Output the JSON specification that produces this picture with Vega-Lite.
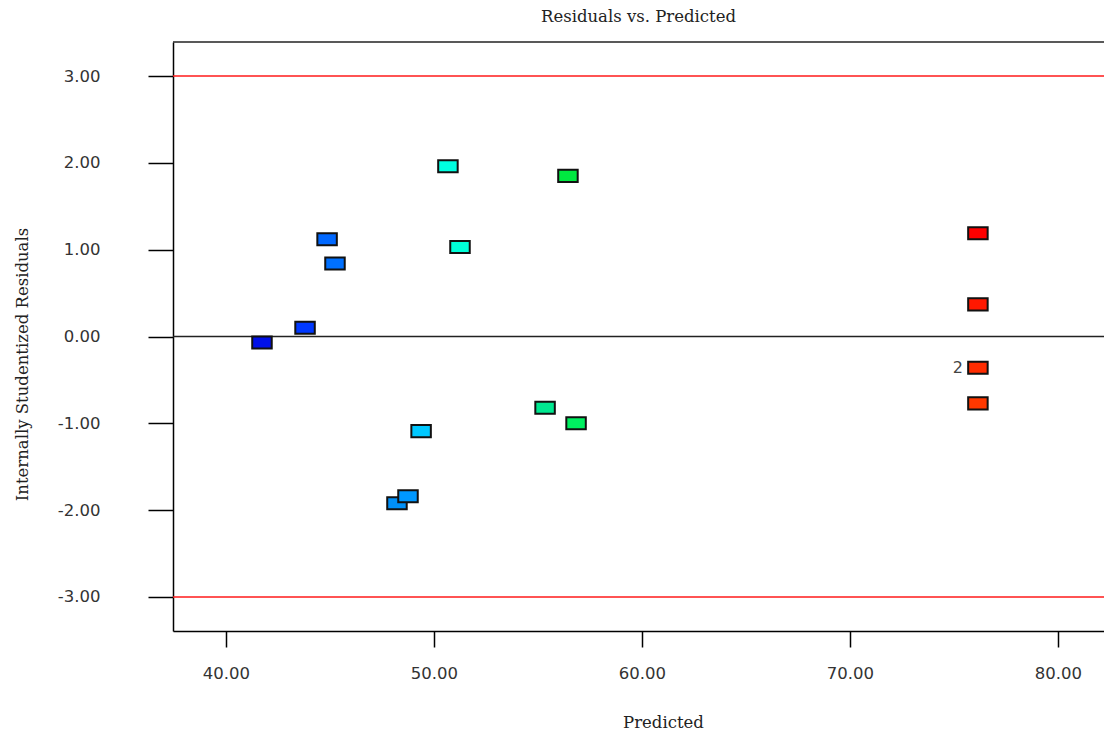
{
  "$schema": "https://vega.github.io/schema/vega-lite/v6.json",
  "autosize": "none",
  "width": 931,
  "height": 589,
  "padding": {"left": 173, "top": 42, "right": 0, "bottom": 102},
  "background": "white",
  "config": {
    "view": {"stroke": null},
    "axis": {
      "grid": false,
      "domainColor": "black",
      "domainWidth": 1.5,
      "tickColor": "black",
      "tickWidth": 1.5,
      "labelFont": "DejaVu Sans",
      "labelFontSize": 16.5,
      "labelColor": "#333333",
      "titleFont": "DejaVu Serif",
      "titleFontSize": 16.5,
      "titleFontWeight": "normal",
      "titleColor": "#222222"
    }
  },
  "title": {
    "text": "Residuals vs. Predicted",
    "font": "DejaVu Serif",
    "fontSize": 16.5,
    "fontWeight": "normal",
    "color": "#222222",
    "anchor": "middle",
    "offset": 16
  },
  "data": {
    "values": [
      {"run": "r1", "predicted": 41.73, "residual": -0.07, "label": ""},
      {"run": "r2", "predicted": 43.8, "residual": 0.1, "label": ""},
      {"run": "r3", "predicted": 44.86, "residual": 1.12, "label": ""},
      {"run": "r4", "predicted": 45.24, "residual": 0.84, "label": ""},
      {"run": "r5", "predicted": 48.22, "residual": -1.92, "label": ""},
      {"run": "r6", "predicted": 48.75, "residual": -1.84, "label": ""},
      {"run": "r7", "predicted": 49.38, "residual": -1.09, "label": ""},
      {"run": "r8", "predicted": 50.67, "residual": 1.96, "label": ""},
      {"run": "r9", "predicted": 51.25, "residual": 1.03, "label": ""},
      {"run": "r10", "predicted": 55.34, "residual": -0.82, "label": ""},
      {"run": "r11", "predicted": 56.44, "residual": 1.85, "label": ""},
      {"run": "r12", "predicted": 56.83, "residual": -1.0, "label": ""},
      {"run": "r13", "predicted": 76.15, "residual": 1.19, "label": ""},
      {"run": "r14", "predicted": 76.15, "residual": 0.37, "label": ""},
      {"run": "r15", "predicted": 76.15, "residual": -0.36, "label": "2"},
      {"run": "r16", "predicted": 76.15, "residual": -0.77, "label": ""}
    ]
  },
  "layer": [
    {
      "data": {"values": [{"limit": 3}, {"limit": -3}]},
      "mark": {"type": "rule", "color": "#ff1a1a", "strokeWidth": 1.5},
      "encoding": {
        "y": {"field": "limit", "type": "quantitative", "scale": {"domain": [-3.392, 3.392], "nice": false, "zero": false}}
      }
    },
    {
      "data": {"values": [{"zero": 0}]},
      "mark": {"type": "rule", "color": "#222222", "strokeWidth": 1.5},
      "encoding": {
        "y": {"field": "zero", "type": "quantitative"}
      }
    },
    {
      "data": {"values": [{"top": 3.392}]},
      "mark": {"type": "rule", "color": "#222222", "strokeWidth": 1.5},
      "encoding": {
        "y": {"field": "top", "type": "quantitative"}
      }
    },
    {
      "mark": {
        "type": "point",
        "filled": true,
        "opacity": 1,
        "shape": "M-1,-0.62L1,-0.62L1,0.62L-1,0.62Z",
        "size": 380,
        "stroke": "#111111",
        "strokeWidth": 2
      },
      "encoding": {
        "x": {
          "field": "predicted",
          "type": "quantitative",
          "title": "Predicted",
          "scale": {"domain": [37.452, 82.212], "nice": false, "zero": false},
          "axis": {
            "values": [40, 50, 60, 70, 80],
            "format": ".2f",
            "tickSize": 16,
            "labelPadding": 18,
            "titleX": 490,
            "titleY": 91,
            "titleBaseline": "middle",
            "titleAnchor": null
          }
        },
        "y": {
          "field": "residual",
          "type": "quantitative",
          "title": "Internally Studentized Residuals",
          "axis": {
            "values": [-3, -2, -1, 0, 1, 2, 3],
            "labelExpr": "datum.value < 0 ? '-' + format(-datum.value, '.2f') : format(datum.value, '.2f')",
            "tickSize": 25,
            "labelPadding": 48,
            "titleX": -151,
            "titleY": 322,
            "titleAngle": -90,
            "titleAlign": "center",
            "titleBaseline": "middle"
          }
        },
        "color": {
          "field": "run",
          "type": "nominal",
          "legend": null,
          "scale": {
            "domain": ["r1", "r2", "r3", "r4", "r5", "r6", "r7", "r8", "r9", "r10", "r11", "r12", "r13", "r14", "r15", "r16"],
            "range": ["#0010e8", "#0038ff", "#0068ff", "#0070ff", "#0090f8", "#0098ff", "#00c8ff", "#00ffe0", "#00ffd8", "#00e890", "#00e840", "#00f060", "#ff0000", "#ff1800", "#ff2c00", "#ff3800"]
          }
        }
      }
    },
    {
      "transform": [{"filter": "datum.label != ''"}],
      "mark": {"type": "text", "align": "right", "baseline": "middle", "dx": -15, "font": "DejaVu Sans", "fontSize": 16, "color": "#444444"},
      "encoding": {
        "x": {"field": "predicted", "type": "quantitative"},
        "y": {"field": "residual", "type": "quantitative"},
        "text": {"field": "label"}
      }
    }
  ]
}
